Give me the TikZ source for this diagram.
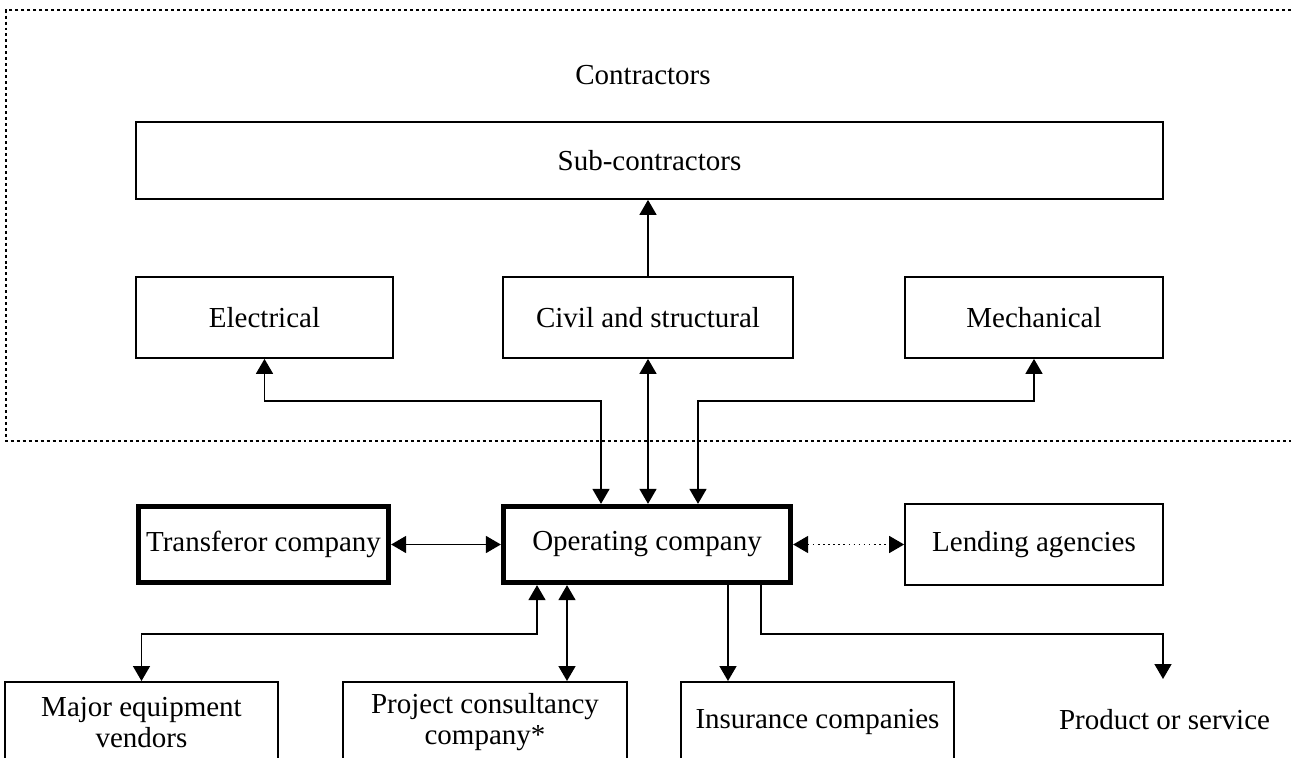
\documentclass[tikz,border=0pt]{standalone}
\usepackage{fontspec}
\setmainfont{Liberation Serif}
\usepackage{tikz}
\usetikzlibrary{arrows.meta}
\tikzset{>={Triangle[length=0.3cm,width=0.34cm]}}
\tikzset{box/.style={draw,line width=1pt,minimum height=1.62cm,align=center,font=\fontsize{16.5}{17.5}\selectfont}}
\tikzset{mainbox/.style={box,line width=3pt}}
\tikzset{link/.style={line width=0.9pt}}

\begin{document}
\begin{tikzpicture}
\useasboundingbox (0,0) rectangle (25.82,15.14);
\draw[line width=0.6pt,dash pattern=on 1.7pt off 1.7pt] (25.82,14.94) -- (0.12,14.94) -- (0.12,6.32) -- (25.82,6.32);
\node[font=\fontsize{16.5}{17.5}\selectfont] (contr) at (12.86,13.64) {Contractors};
\node[box,minimum width=20.54cm,minimum height=1.54cm] (sub) at (12.99,11.93) {Sub-contractors};
\node[box,minimum width=5.14cm] (elec) at (5.29,8.79) {Electrical};
\node[box,minimum width=5.8cm] (civ) at (12.96,8.79) {Civil and structural};
\node[box,minimum width=5.16cm] (mech) at (20.68,8.79) {Mechanical};
\node[mainbox,minimum width=5.0cm,minimum height=1.52cm] (trans) at (5.27,4.25) {Transferor company};
\node[mainbox,minimum width=5.74cm,minimum height=1.52cm] (op) at (12.94,4.25) {Operating company};
\node[box,minimum width=5.16cm] (lend) at (20.68,4.25) {Lending agencies};
\node[box,anchor=north,minimum width=5.46cm] (vend) at (2.83,1.52) {Major equipment\\vendors};
\node[box,anchor=north,minimum width=5.68cm] (cons) at (9.70,1.52) {Project consultancy\\company*};
\node[box,anchor=north,minimum width=5.46cm] (ins) at (16.35,1.52) {Insurance companies};
\node[font=\fontsize{16.5}{17.5}\selectfont] (prod) at (23.29,0.74) {Product or service};
% levels of the elbows
\coordinate (upper) at (0,7.12);
\coordinate (lower) at (0,2.46);
\coordinate (opel) at ([xshift=-0.92cm]op.north);
\coordinate (opme) at ([xshift=1.02cm]op.north);
\coordinate (opvend) at ([xshift=-2.2cm]op.south);
\coordinate (opcons) at ([xshift=-1.6cm]op.south);
\coordinate (opins) at ([xshift=1.62cm]op.south);
\coordinate (opprod) at ([xshift=2.28cm]op.south);
\coordinate (prodin) at (23.26,1.56);
\draw[link,->] (civ.north) -- (civ.north |- sub.south);
\draw[link,<->] (civ.south) -- (civ.south |- op.north);
\draw[link,<->] (elec.south) |- (opel |- upper) -- (opel);
\draw[link,<->] (mech.south) |- (opme |- upper) -- (opme);
\draw[link,<->] (trans) -- (op);
\draw[link,dotted,<->] (op) -- (lend);
\draw[link,<->] (opvend) |- (vend.north |- lower) -- (vend.north);
\draw[link,<->] (opcons) -- (opcons |- cons.north);
\draw[link,->] (opins) -- (opins |- ins.north);
\draw[link,->] (opprod) |- (prodin |- lower) -- (prodin);
\end{tikzpicture}
\end{document}
